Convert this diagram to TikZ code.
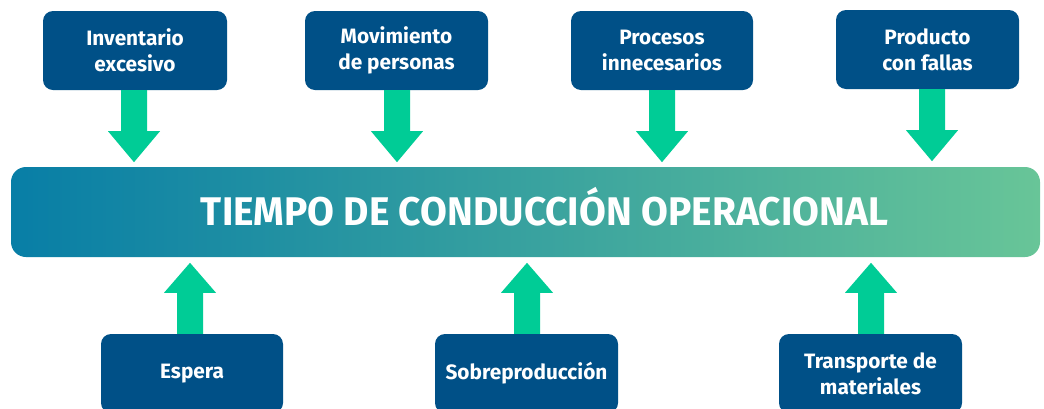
\documentclass[tikz,border=0pt]{standalone}
\usepackage{fontspec}
\setmainfont{Fira Sans}
\usetikzlibrary{calc}
\definecolor{boxblue}{RGB}{0,80,135}
\definecolor{arrgreen}{RGB}{0,204,150}
\definecolor{barleft}{RGB}{8,126,166}
\definecolor{barright}{RGB}{104,197,152}
\tikzset{
  cause/.style={draw=none, fill=boxblue, rounded corners=10pt, minimum height=79pt,
    text=white, align=center, font=\fontsize{20.8}{26}\selectfont\bfseries, inner sep=0pt},
  blockarrow/.style={fill=arrgreen, draw=none},
}
\begin{document}
\begin{tikzpicture}[x=1pt,y=-1pt]
\clip (0,0) rectangle (1044,408);
\fill[white] (0,0) rectangle (1044,408);
% central bar
\node[draw=none, rounded corners=15pt, left color=barleft, right color=barright,
  minimum width=1029pt, minimum height=90pt, inner sep=0pt] (bar) at (525.5,212) {};
\node[anchor=base, inner sep=0pt, text=white,
  font=\fontsize{40}{40}\selectfont\bfseries] (title) at (544.5,225.5)
  {\resizebox{687pt}{\height}{TIEMPO DE CONDUCCIÓN OPERACIONAL}};
% top causes
\node[cause, minimum width=184pt] (b1) at (135,50.5) {Inventario\\excesivo};
\node[cause, minimum width=183pt] (b2) at (396.5,50.5) {Movimiento\\de personas};
\node[cause, minimum width=182pt] (b3) at (662,50.5) {Procesos\\innecesarios};
\node[cause, minimum width=183pt] (b4) at (927.5,49.5) {Producto\\con fallas};
% bottom causes
\node[cause, minimum width=182pt] (e) at (192,373.5) {Espera};
\node[cause, minimum width=183pt] (s) at (526.5,373.5) {Sobreproducción};
\node[cause, minimum width=183pt] (t) at (870.5,373.5) {Transporte de\\materiales};
% down arrows (top boxes -> bar)
\foreach \b/\dx in {b1/-1, b2/0.5, b3/0, b4/4.5}{
  \fill[blockarrow] ($(\b.south)+(\dx-13,0)$) -- ++(0,41) -- ++(-13,0)
    -- ++(26,31) -- ++(26,-31) -- ++(-13,0) -- ++(0,-41) -- cycle;
}
% up arrows (bottom boxes -> bar)
\foreach \b/\dx in {e/-2, s/0.5, t/0.5}{
  \fill[blockarrow] ($(\b.north)+(\dx-13,0)$) -- ++(0,-41) -- ++(-13,0)
    -- ++(26,-30) -- ++(26,30) -- ++(-13,0) -- ++(0,41) -- cycle;
}
\end{tikzpicture}
\end{document}
